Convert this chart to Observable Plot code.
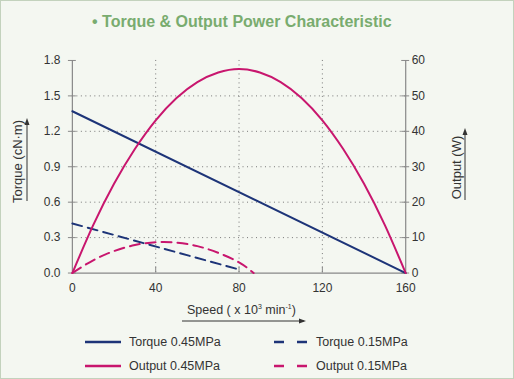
<!DOCTYPE html>
<html><head><meta charset="utf-8">
<script src="https://cdn.jsdelivr.net/npm/d3@7"></script>
<script src="https://cdn.jsdelivr.net/npm/@observablehq/plot@0.6"></script>
<style>
html,body{margin:0;padding:0;background:#f4f7f1;}
#wrap{position:relative;width:512px;height:377px;background:#f4f7f1;border:1px solid #c3d2bd;font-family:"Liberation Sans",Arial,sans-serif;color:#333;overflow:hidden;}
#title{position:absolute;top:12px;left:91px;white-space:nowrap;font-weight:bold;font-size:16px;color:#79ac6f;}
#plot{position:absolute;left:-1px;top:39px;}
.lab{position:absolute;font-size:12.5px;color:#333;white-space:nowrap;}
.rot{transform:rotate(-90deg);transform-origin:center center;}
#legend{position:absolute;left:0;top:331px;width:512px;height:45px;font-size:12.5px;}
.li{position:absolute;display:flex;align-items:center;}
.li svg{margin-right:8px;}
</style></head><body>
<div id="wrap">
<div id="title">• Torque &amp; Output Power Characteristic</div>
<div id="plot"></div>
<div class="lab rot" style="left:-34px;top:153px;width:100px;text-align:center;font-size:13px;">Torque (cN·m)</div>
<svg style="position:absolute;left:22px;top:116px" width="8" height="86"><line x1="4" y1="84" x2="4" y2="4" stroke="#333" stroke-width="1"/><path d="M1.5,8 L4,1 L6.5,8Z" fill="#333"/></svg>
<div class="lab rot" style="left:405px;top:159px;width:100px;text-align:center;font-size:13px;">Output (W)</div>
<svg style="position:absolute;left:460px;top:126px" width="8" height="75"><line x1="4" y1="73" x2="4" y2="4" stroke="#333" stroke-width="1"/><path d="M1.5,8 L4,1 L6.5,8Z" fill="#333"/></svg>
<div class="lab" style="left:186px;top:302px;font-size:12.5px;">Speed ( x 10<sup style="font-size:7px;vertical-align:5px">3</sup> min<sup style="font-size:7px;vertical-align:5px">-1</sup>)</div>
<svg style="position:absolute;left:179px;top:316px" width="130" height="8"><line x1="2" y1="4" x2="124" y2="4" stroke="#333" stroke-width="1"/><path d="M119,1.5 L126,4 L119,6.5Z" fill="#333"/></svg>
<div id="legend"></div>
</div>
<script>
// ---- data ----
const speedTicks = [0, 40, 80, 120, 160];
const torqueTicks = [0.0, 0.3, 0.6, 0.9, 1.2, 1.5, 1.8];
const outputTicks = [0, 10, 20, 30, 40, 50, 60];

const speedT045 = [0, 160];
const torque045 = [1.37, 0.0];
const speedT015 = [0, 80];
const torque015 = [0.42, 0.03];

const speedO045 = [0, 10, 20, 30, 40, 50, 60, 70, 80, 90, 100, 110, 120, 130, 140, 150, 160];
const output045 = [0, 13.5, 25.2, 35.0, 43.1, 49.4, 53.9, 56.6, 57.6, 56.6, 53.9, 49.4, 43.1, 35.0, 25.2, 13.5, 0];
const speedO015 = [0, 10, 20, 30, 40, 50, 60, 70, 80, 87];
const output015 = [0, 3.6, 6.2, 7.9, 8.7, 8.6, 7.6, 5.7, 3.0, 0];

const seriesNames = ["Torque 0.45MPa", "Output 0.45MPa", "Torque 0.15MPa", "Output 0.15MPa"];

const navy = "#1d3478", magenta = "#c8166e";
const torqueMax = 1.8, outputMax = 60;
const toY = w => w * torqueMax / outputMax; // map output (W) onto torque axis

const t45 = speedT045.map((s, i) => ({s, v: torque045[i]}));
const t15 = speedT015.map((s, i) => ({s, v: torque015[i]}));
const o45 = speedO045.map((s, i) => ({s, v: toY(output045[i])}));
const o15 = speedO015.map((s, i) => ({s, v: toY(output015[i])}));

const gridY = torqueTicks.filter(t => t > 0 && t < torqueMax);
const gridX = speedTicks.filter(t => t > 0 && t < 160);

const plot = Plot.plot({
  width: 514, height: 283,
  marginLeft: 72, marginRight: 108, marginTop: 20, marginBottom: 50,
  style: {background: "transparent", fontFamily: "Liberation Sans, Arial, sans-serif", fontSize: "12px", color: "#333"},
  x: {domain: [0, 160]},
  y: {domain: [0, torqueMax]},
  marks: [
    Plot.ruleY(gridY, {stroke: "#777", strokeDasharray: "1,3.5", strokeWidth: 1}),
    Plot.ruleX(gridX, {stroke: "#777", strokeDasharray: "1,3.5", strokeWidth: 1}),
    Plot.ruleX([0, 160], {stroke: "#888", strokeWidth: 1.2}),
    Plot.ruleY([0], {stroke: "#888", strokeWidth: 1.2}),
    Plot.ruleY(torqueTicks, {x1: -1.9, x2: 1.9, stroke: "#888"}),
    Plot.ruleY(outputTicks.map(toY), {x1: 158.1, x2: 161.9, stroke: "#888"}),
    Plot.ruleX(gridX, {y1: 0, y2: 0.05, stroke: "#888"}),
    Plot.axisY(torqueTicks, {anchor: "left", tickSize: 0, tickPadding: 12, tickFormat: d3.format(".1f"), label: null, fontSize: 12}),
    Plot.axisY(outputTicks.map(toY), {anchor: "right", tickSize: 0, tickPadding: 6, tickFormat: d => Math.round(d * outputMax / torqueMax), label: null, fontSize: 12}),
    Plot.axisX(speedTicks, {tickSize: 0, tickPadding: 10, label: null, fontSize: 12}),
    Plot.line(t45, {x: "s", y: "v", stroke: navy, strokeWidth: 2}),
    Plot.line(t15, {x: "s", y: "v", stroke: navy, strokeWidth: 2, strokeDasharray: "10,6"}),
    Plot.line(o15, {x: "s", y: "v", stroke: magenta, strokeWidth: 2, strokeDasharray: "10,6", curve: "natural"}),
    Plot.line(o45, {x: "s", y: "v", stroke: magenta, strokeWidth: 2, curve: "natural"})
  ]
});
document.getElementById("plot").appendChild(plot);

// legend
const legendItems = [
  {name: seriesNames[0], color: navy, dash: null, left: 84, top: 3},
  {name: seriesNames[1], color: magenta, dash: null, left: 84, top: 27},
  {name: seriesNames[2], color: navy, dash: "10,13", left: 273, top: 3},
  {name: seriesNames[3], color: magenta, dash: "10,13", left: 273, top: 27}
];
const lg = document.getElementById("legend");
for (const it of legendItems) {
  const d = document.createElement("div");
  d.className = "li";
  d.style.left = it.left + "px";
  d.style.top = it.top + "px";
  const w = it.dash ? 34 : 36;
  d.innerHTML = `<svg width="${w}" height="6"><line x1="0" y1="3" x2="${w}" y2="3" stroke="${it.color}" stroke-width="2.5" ${it.dash ? `stroke-dasharray="${it.dash}"` : ""}/></svg><span>${it.name}</span>`;
  lg.appendChild(d);
}
</script>
</body></html>
